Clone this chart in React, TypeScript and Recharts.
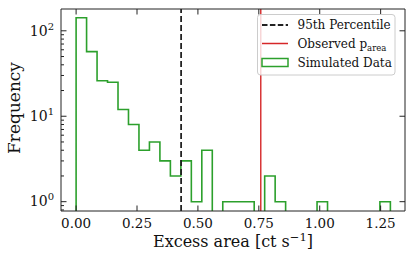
import React from 'react';
import { LineChart, Line, XAxis, YAxis, ReferenceLine } from 'recharts';

// ---- data ----
const binEdges = [
  0.0, 0.043, 0.086, 0.129, 0.172, 0.215, 0.258, 0.301, 0.344, 0.387, 0.43,
  0.473, 0.516, 0.559, 0.602, 0.645, 0.688, 0.731, 0.774, 0.817, 0.86,
  0.903, 0.946, 0.989, 1.032, 1.075, 1.118, 1.161, 1.204, 1.247, 1.29,
];
const binCounts = [
  142, 57, 26, 25, 12, 8, 4, 5, 3, 2, 3, 1, 4, 0, 1, 1, 1, 0, 2, 1, 0, 0, 0, 1, 0, 0, 0, 0, 0, 1,
];
const percentile95 = 0.431;
const observedArea = 0.758;
const xTicks = [0, 0.25, 0.5, 0.75, 1.0, 1.25];
const yMajorTicks = [1, 10, 100];
const yMajorExp = ['0', '1', '2'];
const yMinorTicks = [0.8, 0.9, 2, 3, 4, 5, 6, 7, 8, 9, 20, 30, 40, 50, 60, 70, 80, 90];
const xDomain: [number, number] = [-0.062, 1.35];
const yDomain: [number, number] = [0.778, 180];
const FLOOR = 0.3; // below the visible log range: empty bins sit on the floor

const histPoints: { x: number; y: number }[] = [
  { x: binEdges[0], y: FLOOR },
  ...binCounts.map((c, i) => ({ x: binEdges[i], y: c > 0 ? c : FLOOR })),
  { x: binEdges[binEdges.length - 1], y: FLOOR },
];

const FONT = "'DejaVu Serif', serif";
const SPINE = '#222';
const GREEN = '#2ca02c';
const RED = '#d62728';

const W = 415;
const H = 261;

const YTickLeft = (props: any) => {
  const { x, y, payload } = props;
  const v = payload.value;
  const idx = yMajorTicks.indexOf(v);
  const major = idx >= 0;
  return (
    <g>
      <line x1={x} x2={x + (major ? 5.5 : 3)} y1={y} y2={y} stroke={SPINE} strokeWidth={1} />
      {major && (
        <text x={x - 7} y={y + 4.8} textAnchor="end" fontFamily={FONT} fontSize={14} fill="#111">
          10
          <tspan dy={-6} fontSize={10}>
            {yMajorExp[idx]}
          </tspan>
        </text>
      )}
    </g>
  );
};

const YTickRight = (props: any) => {
  const { x, y } = props;
  return <line x1={x} x2={x - 5.5} y1={y} y2={y} stroke={SPINE} strokeWidth={1} />;
};

const XTickBottom = (props: any) => {
  const { x, y, payload } = props;
  return (
    <g>
      <line x1={x} x2={x} y1={y} y2={y - 5.5} stroke={SPINE} strokeWidth={1} />
      <text x={x} y={y + 16.5} textAnchor="middle" fontFamily={FONT} fontSize={13.5} fill="#111">
        {Number(payload.value).toFixed(2)}
      </text>
    </g>
  );
};

const XTickTop = (props: any) => {
  const { x, y } = props;
  return <line x1={x} x2={x} y1={y} y2={y + 5.5} stroke={SPINE} strokeWidth={1} />;
};

const XLabel = (props: any) => {
  const vb = props.viewBox || {};
  const cx = vb.x + vb.width / 2;
  return (
    <text x={cx} y={vb.y + 36.3} textAnchor="middle" fontFamily={FONT} fontSize={16} fill="#111">
      Excess area [ct s
      <tspan dy={-6} fontSize={11.5}>
        −1
      </tspan>
      <tspan dy={6}>]</tspan>
    </text>
  );
};

const YLabel = () => {
  const cy = 108;
  const lx = 20;
  return (
    <text
      x={lx}
      y={cy}
      transform={`rotate(-90 ${lx} ${cy})`}
      textAnchor="middle"
      fontFamily={FONT}
      fontSize={17}
      fill="#111"
    >
      Frequency
    </text>
  );
};

const LegendBox = () => {
  const rows = [25, 43.5, 62.5];
  return (
    <svg
      width={W}
      height={H}
      style={{ position: 'absolute', left: 0, top: 0, pointerEvents: 'none', fontFamily: FONT }}
    >
      <rect x={257.5} y={14.5} width={137.5} height={60.5} rx={3} ry={3} fill="rgba(255,255,255,0.8)" stroke="#cccccc" strokeWidth={1} />
      <line x1={262} x2={288} y1={rows[0]} y2={rows[0]} stroke="#222" strokeWidth={1.8} strokeDasharray="5.5 2.4" />
      <line x1={262} x2={288} y1={rows[1]} y2={rows[1]} stroke={RED} strokeWidth={1.5} />
      <rect x={262} y={rows[2] - 4} width={26} height={8} fill="none" stroke={GREEN} strokeWidth={1.5} />
      <text x={297.5} y={rows[0] + 4.3} fontFamily={FONT} fontSize={12} fill="#111">
        95th Percentile
      </text>
      <text x={297.5} y={rows[1] + 4.3} fontFamily={FONT} fontSize={12} fill="#111">
        Observed p
        <tspan dy={3} fontSize={8.5}>
          area
        </tspan>
      </text>
      <text x={297.5} y={rows[2] + 4.3} fontFamily={FONT} fontSize={12} fill="#111">
        Simulated Data
      </text>
    </svg>
  );
};

export default function App() {
  return (
    <div style={{ position: 'absolute', left: 0, top: 0, width: W, height: H, background: '#fff' }}>
      <LineChart width={W} height={H} data={histPoints} margin={{ top: 8, right: 9, bottom: 0, left: 0 }}>
        <XAxis
          dataKey="x"
          type="number"
          domain={xDomain}
          allowDataOverflow
          ticks={xTicks}
          interval={0}
          height={50}
          tickSize={0}
          tickMargin={0}
          tickLine={false}
          tick={<XTickBottom />}
          axisLine={{ stroke: SPINE, strokeWidth: 1 }}
          label={<XLabel />}
        />
        <XAxis
          xAxisId="top"
          dataKey="x"
          type="number"
          orientation="top"
          domain={xDomain}
          allowDataOverflow
          ticks={xTicks}
          interval={0}
          height={1}
          tickSize={0}
          tickMargin={0}
          tickLine={false}
          tick={<XTickTop />}
          axisLine={{ stroke: SPINE, strokeWidth: 1 }}
        />
        <YAxis
          type="number"
          scale="log"
          domain={yDomain}
          allowDataOverflow
          ticks={[...yMinorTicks, ...yMajorTicks].sort((a, b) => a - b)}
          interval={0}
          width={61}
          tickSize={0}
          tickMargin={0}
          tickLine={false}
          tick={<YTickLeft />}
          axisLine={{ stroke: SPINE, strokeWidth: 1 }}
          label={<YLabel />}
        />
        <YAxis
          yAxisId="right"
          orientation="right"
          type="number"
          scale="log"
          domain={yDomain}
          allowDataOverflow
          ticks={yMajorTicks}
          interval={0}
          width={1}
          tickSize={0}
          tickMargin={0}
          tickLine={false}
          tick={<YTickRight />}
          axisLine={{ stroke: SPINE, strokeWidth: 1 }}
        />
        <Line
          dataKey="y"
          type="stepAfter"
          stroke={GREEN}
          strokeWidth={1.6}
          dot={false}
          activeDot={false}
          isAnimationActive={false}
        />
        <ReferenceLine x={percentile95} stroke="#222" strokeWidth={1.8} strokeDasharray="6 3" ifOverflow="hidden" />
        <ReferenceLine x={observedArea} stroke={RED} strokeWidth={1.4} ifOverflow="hidden" />
      </LineChart>
      <LegendBox />
    </div>
  );
}
